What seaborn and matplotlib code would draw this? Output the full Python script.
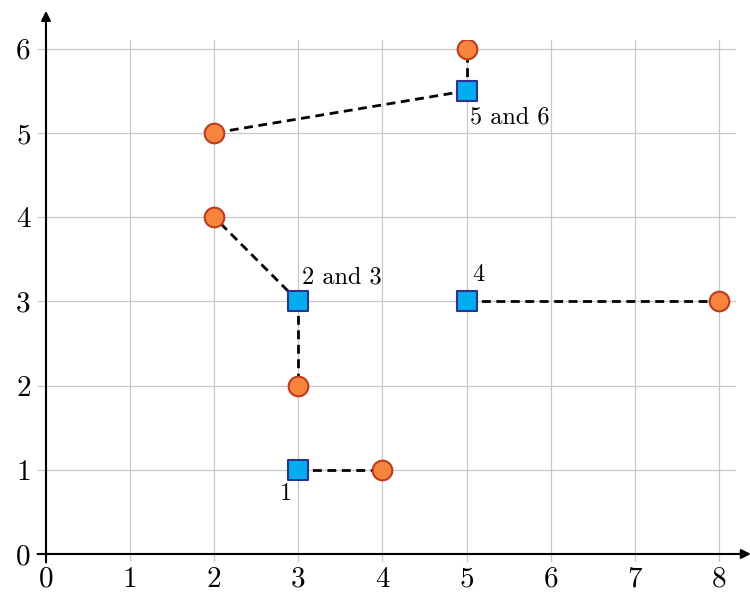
import matplotlib
matplotlib.use("Agg")
import matplotlib.pyplot as plt
import seaborn as sns
import pandas as pd

# data
square_x = [3, 3, 5, 5]
square_y = [1, 3, 3, 5.5]
circle_x = [4, 3, 2, 2, 5, 8]
circle_y = [1, 2, 4, 5, 6, 3]
circle_to_square = [0, 1, 1, 3, 3, 2]
label_text = ["1", "2 and 3", "4", "5 and 6"]
label_x = [2.85, 3.04, 5.07, 5.04]
label_y = [0.71, 3.29, 3.31, 5.18]
xticks = list(range(0, 9))
yticks = list(range(0, 7))

sns.set_style("white")
plt.rcParams["font.family"] = ["cmr10", "DejaVu Serif"]
plt.rcParams["axes.formatter.use_mathtext"] = True
plt.rcParams["text.color"] = "black"
plt.rcParams["xtick.color"] = "black"
plt.rcParams["ytick.color"] = "black"

fig = plt.figure(figsize=(7.5, 5.93), dpi=100)
ax = fig.add_axes([0.0501, 0.0516, 0.981 - 0.0501, 0.932 - 0.0516])

# link segments
rows = []
for i, s in enumerate(circle_to_square):
    rows.append({"pair": i, "order": 0, "x": square_x[s], "y": square_y[s]})
    rows.append({"pair": i, "order": 1, "x": circle_x[i], "y": circle_y[i]})
links = pd.DataFrame(rows)
sns.lineplot(data=links, x="x", y="y", units="pair", estimator=None, sort=False,
             color="black", lw=2.0, dashes=False, ax=ax, zorder=3,
             linestyle=(0, (3.2, 2.0)))

sns.scatterplot(x=circle_x, y=circle_y, marker="o", s=200, color="#F5843C",
                edgecolor="#C23A1C", linewidth=1.5, ax=ax, zorder=4)
sns.scatterplot(x=square_x, y=square_y, marker="s", s=190, color="#00AEEF",
                edgecolor="#2E3192", linewidth=1.5, ax=ax, zorder=4)

for t, x, y in zip(label_text, label_x, label_y):
    ax.text(x, y, t, fontsize=17.5, color="black",
            ha="left" if t != "1" else "center", va="center", zorder=5)

ax.set_xlim(-0.1, 8.2)
ax.set_ylim(-0.1, 6.1)
ax.set_xticks(xticks)
ax.set_yticks(yticks)
ax.set_xticklabels([str(v) for v in xticks])
ax.set_yticklabels([str(v) for v in yticks])
ax.tick_params(length=0, labelsize=21, pad=5, colors="black")
ax.tick_params(axis="x", pad=3)
ax.grid(True, color="#c8c8c8", lw=0.9)
ax.set_axisbelow(True)
for sp in ax.spines.values():
    sp.set_visible(False)
ax.set_xlabel("")
ax.set_ylabel("")

ax.annotate("", xy=(8.38, 0), xytext=(-0.1, 0),
            arrowprops=dict(arrowstyle="-|>", lw=1.5, color="black", mutation_scale=14,
                            shrinkA=0, shrinkB=0),
            annotation_clip=False, zorder=2)
ax.annotate("", xy=(0, 6.45), xytext=(0, -0.1),
            arrowprops=dict(arrowstyle="-|>", lw=1.5, color="black", mutation_scale=14,
                            shrinkA=0, shrinkB=0),
            annotation_clip=False, zorder=2)

fig.savefig("out.png", dpi=100)
